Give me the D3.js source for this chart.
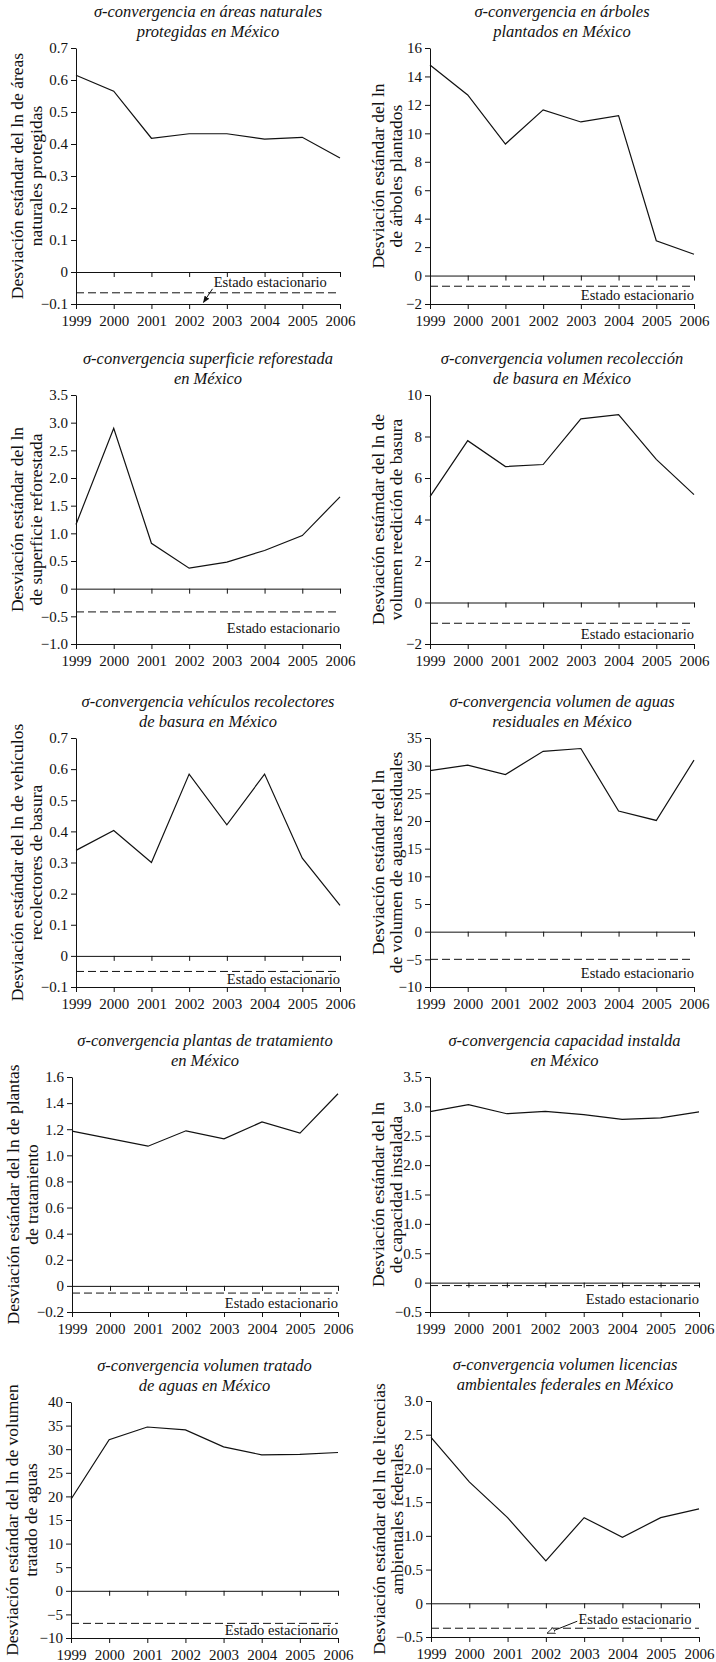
<!DOCTYPE html>
<html>
<head>
<meta charset="utf-8">
<script src="https://cdn.jsdelivr.net/npm/d3@7"></script>
<style>
  body { margin: 0; background: #fff; }
  svg { display: block; }
  text { font-family: "Liberation Serif", "Times New Roman", serif; fill: #111; }
  .tick line, .domain { stroke: #111; }
</style>
</head>
<body>
<svg id="chart" width="716" height="1662"></svg>
<script>
// years on the x axis
var years = [1999, 2000, 2001, 2002, 2003, 2004, 2005, 2006];

// one series per panel
var areasNaturales = [0.615, 0.565, 0.418, 0.432, 0.432, 0.415, 0.421, 0.356];
var arbolesPlantados = [14.8, 12.7, 9.25, 11.65, 10.8, 11.25, 2.45, 1.5];
var superficieReforestada = [1.16, 2.9, 0.82, 0.37, 0.48, 0.69, 0.96, 1.66];
var volumenBasura = [5.1, 7.8, 6.55, 6.65, 8.85, 9.05, 6.9, 5.2];
var vehiculosBasura = [0.339, 0.403, 0.3, 0.584, 0.421, 0.584, 0.314, 0.162];
var aguasResiduales = [29.1, 30.1, 28.4, 32.6, 33.1, 21.8, 20.1, 31.0];
var plantasTratamiento = [1.185, 1.128, 1.07, 1.188, 1.126, 1.256, 1.17, 1.472];
var capacidadInstalada = [2.91, 3.03, 2.875, 2.915, 2.86, 2.78, 2.805, 2.905];
var volumenTratado = [19.4, 32.0, 34.7, 34.1, 30.5, 28.8, 28.9, 29.3];
var licenciasAmbientales = [2.46, 1.8, 1.27, 0.63, 1.27, 0.98, 1.27, 1.4];

var series = [areasNaturales, arbolesPlantados, superficieReforestada, volumenBasura,
              vehiculosBasura, aguasResiduales, plantasTratamiento, capacidadInstalada,
              volumenTratado, licenciasAmbientales];

// steady state (dashed line) per panel
var estadoEstacionario = [-0.065, -0.75, -0.42, -1.0, -0.05, -5, -0.055, -0.05, -6.9, -0.37];

var titulos = [
  ["σ-convergencia en áreas naturales", "protegidas en México"],
  ["σ-convergencia en árboles", "plantados en México"],
  ["σ-convergencia superficie reforestada", "en México"],
  ["σ-convergencia volumen recolección", "de basura en México"],
  ["σ-convergencia vehículos recolectores", "de basura en México"],
  ["σ-convergencia volumen de aguas", "residuales en México"],
  ["σ-convergencia plantas de tratamiento", "en México"],
  ["σ-convergencia capacidad instalda", "en México"],
  ["σ-convergencia volumen tratado", "de aguas en México"],
  ["σ-convergencia volumen licencias", "ambientales federales en México"]
];

var ejeY = [
  ["Desviación estándar del ln de áreas", "naturales protegidas"],
  ["Desviación estándar del ln", "de árboles plantados"],
  ["Desviación estándar del ln", "de superficie reforestada"],
  ["Desviación estámdar del ln de", "volumen reedición de basura"],
  ["Desviación estándar del ln de vehículos", "recolectores de basura"],
  ["Desviación estándar del ln", "de volumen de aguas residuales"],
  ["Desviación estándar del ln de plantas", "de tratamiento"],
  ["Desviación estándar del ln", "de capacidad instalada"],
  ["Desviación estándar del ln de volumen", "tratado de aguas"],
  ["Desviación estándar del ln de licencias", "ambientales federales"]
];

// y tick values per panel
var yTicks = [
  [-0.1, 0, 0.1, 0.2, 0.3, 0.4, 0.5, 0.6, 0.7],
  [-2, 0, 2, 4, 6, 8, 10, 12, 14, 16],
  [-1, -0.5, 0, 0.5, 1, 1.5, 2, 2.5, 3, 3.5],
  [-2, 0, 2, 4, 6, 8, 10],
  [-0.1, 0, 0.1, 0.2, 0.3, 0.4, 0.5, 0.6, 0.7],
  [-10, -5, 0, 5, 10, 15, 20, 25, 30, 35],
  [-0.2, 0, 0.2, 0.4, 0.6, 0.8, 1, 1.2, 1.4, 1.6],
  [-0.5, 0, 0.5, 1, 1.5, 2, 2.5, 3, 3.5],
  [-10, -5, 0, 5, 10, 15, 20, 25, 30, 35, 40],
  [-0.5, 0, 0.5, 1, 1.5, 2, 2.5, 3]
];
var yDecimales = [1, 0, 1, 0, 1, 0, 1, 1, 0, 1];

// panel boxes: [left, right, top, bottom]
var cajas = [
  [76, 340, 48, 304], [430, 694, 48, 304],
  [76, 340, 395, 644], [430, 694, 395, 644],
  [76, 340, 738, 987], [430, 694, 738, 987],
  [72, 338, 1077, 1312], [430, 699, 1077, 1312],
  [71, 338, 1402, 1638], [431, 699, 1401, 1637]
];

var svg = d3.select("#chart");

var defs = svg.append("defs");
defs.append("marker")
    .attr("id", "flecha")
    .attr("viewBox", "0 0 10 10")
    .attr("refX", 9).attr("refY", 5)
    .attr("markerWidth", 7).attr("markerHeight", 7)
    .attr("orient", "auto")
  .append("path")
    .attr("d", "M0,1 L10,5 L0,9 z")
    .attr("fill", "#111");
defs.append("marker")
    .attr("id", "flechaHueca")
    .attr("viewBox", "0 0 10 10")
    .attr("refX", 9).attr("refY", 5)
    .attr("markerWidth", 8).attr("markerHeight", 8)
    .attr("orient", "auto")
  .append("path")
    .attr("d", "M0,1 L10,5 L0,9 z")
    .attr("fill", "#fff").attr("stroke", "#111").attr("stroke-width", 1);

function formato(dec) {
  var f = d3.format("." + dec + "f");
  return function (v) { return v === 0 ? "0" : f(v); };
}

series.forEach(function (datos, i) {
  var c = cajas[i];
  var col = i % 2;
  var ticks = yTicks[i];
  var x = d3.scaleLinear().domain([1999, 2006]).range([c[0], c[1]]);
  var y = d3.scaleLinear().domain([ticks[0], ticks[ticks.length - 1]]).range([c[3], c[2]]);
  var g = svg.append("g");

  // title
  var cx = (c[0] + c[1]) / 2;
  g.append("text").attr("x", cx).attr("y", c[2] - 31)
    .attr("text-anchor", "middle").attr("font-style", "italic").attr("font-size", 16.5)
    .text(titulos[i][0]);
  g.append("text").attr("x", cx).attr("y", c[2] - 11)
    .attr("text-anchor", "middle").attr("font-style", "italic").attr("font-size", 16.5)
    .text(titulos[i][1]);

  // y axis title (two lines)
  var offs = col === 0 ? [59, 40] : [52, 34];
  var cy = (c[2] + c[3]) / 2;
  ejeY[i].forEach(function (linea, k) {
    g.append("text")
      .attr("transform", "translate(" + (c[0] - offs[k]) + "," + cy + ") rotate(-90)")
      .attr("text-anchor", "middle").attr("dy", "0.35em").attr("font-size", 17.5)
      .text(linea);
  });

  // y axis
  var ya = g.append("g").attr("transform", "translate(" + c[0] + ",0)")
    .call(d3.axisLeft(y).tickValues(ticks).tickFormat(formato(yDecimales[i]))
      .tickSize(5).tickSizeOuter(0).tickPadding(3));
  ya.selectAll("text").attr("font-size", 15).style("font-family", "Liberation Serif");

  // line at zero
  g.append("g").attr("transform", "translate(0," + y(0) + ")")
    .call(d3.axisBottom(x).tickValues(years).tickFormat("").tickSize(5).tickSizeOuter(0));

  // bottom axis with year labels
  var xa = g.append("g").attr("transform", "translate(0," + c[3] + ")")
    .call(d3.axisBottom(x).tickValues(years).tickFormat(d3.format("d"))
      .tickSize(5).tickSizeOuter(0).tickPadding(6));
  xa.selectAll("text").attr("font-size", 15).style("font-family", "Liberation Serif");

  g.selectAll(".domain, .tick line").attr("stroke", "#111").attr("stroke-width", 1);

  // steady state
  var ee = estadoEstacionario[i];
  g.append("line")
    .attr("x1", c[0]).attr("x2", c[1])
    .attr("y1", y(ee)).attr("y2", y(ee))
    .attr("stroke", "#111").attr("stroke-width", 1).attr("stroke-dasharray", "8,4");

  // series
  var linea = d3.line().x(function (d, k) { return x(years[k]); }).y(function (d) { return y(d); });
  g.append("path").datum(datos)
    .attr("d", linea).attr("fill", "none").attr("stroke", "#111").attr("stroke-width", 1.2);

  // steady state label
  if (i === 0) {
    g.append("text").attr("x", x(2002.65)).attr("y", y(ee) - 6)
      .attr("font-size", 14.5).text("Estado estacionario");
    g.append("line")
      .attr("x1", x(2002.62)).attr("y1", y(ee) - 4)
      .attr("x2", x(2002.38)).attr("y2", y(-0.095))
      .attr("stroke", "#111").attr("stroke-width", 1).attr("marker-end", "url(#flecha)");
  } else if (i === 9) {
    g.append("text").attr("x", x(2002.85)).attr("y", y(ee) - 4)
      .attr("font-size", 14.5).text("Estado estacionario");
    g.append("line")
      .attr("x1", x(2002.82)).attr("y1", y(ee) - 7)
      .attr("x2", x(2002.05)).attr("y2", y(-0.44))
      .attr("stroke", "#111").attr("stroke-width", 1).attr("marker-end", "url(#flechaHueca)");
  } else {
    var by = Math.min(c[3] - 3, (y(ee) + c[3]) / 2 + 5);
    g.append("text").attr("x", c[1]).attr("y", by)
      .attr("text-anchor", "end").attr("font-size", 14.5).text("Estado estacionario");
  }
});
</script>
</body>
</html>
